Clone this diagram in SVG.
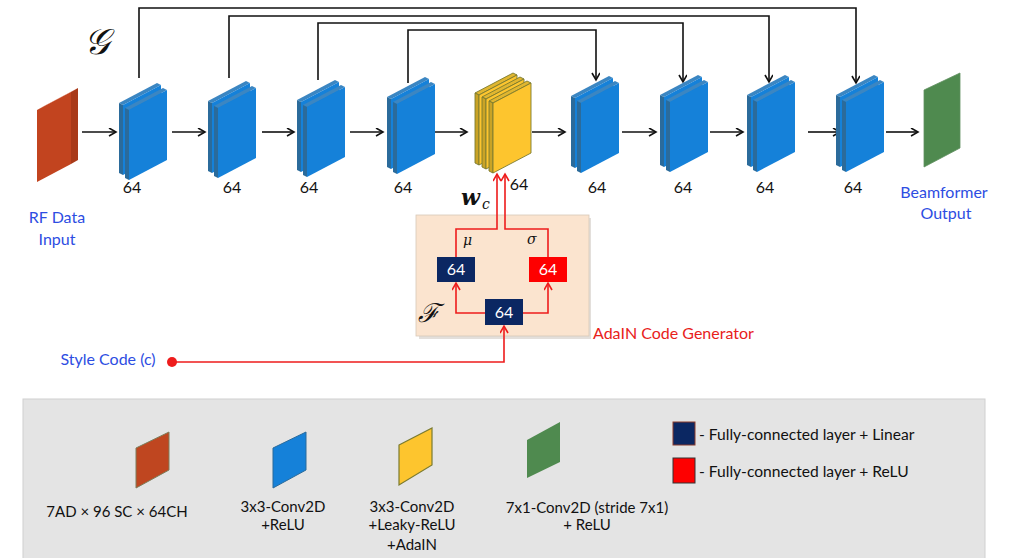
<svg xmlns="http://www.w3.org/2000/svg" xmlns:xlink="http://www.w3.org/1999/xlink" width="1010" height="558" viewBox="0 0 1010 558">
<style>
.lbl{font-family:Lato,"Liberation Sans",sans-serif;font-size:16px;fill:#111;text-anchor:middle}
.blue{font-family:Lato,"Liberation Sans",sans-serif;font-size:16px;fill:#2d4de2;text-anchor:middle}
.red{font-family:Lato,"Liberation Sans",sans-serif;font-size:16px;fill:#e8211b}
.leg{font-family:Lato,"Liberation Sans",sans-serif;font-size:15px;fill:#111;text-anchor:middle}
.fc{font-family:Lato,"Liberation Sans",sans-serif;font-size:16px;fill:#fff;text-anchor:middle}
.k{fill:none;stroke:#111;stroke-width:1.6}
.r{fill:none;stroke:#ee1c1c;stroke-width:1.6}
.math{font-family:"DejaVu Serif","Liberation Serif",serif;font-style:italic;fill:#111}
</style>
<defs>
<marker id="ak" markerWidth="10" markerHeight="10" refX="8" refY="4" orient="auto" markerUnits="userSpaceOnUse">
<path d="M1,0 L8,4 L1,8" fill="none" stroke="#111" stroke-width="1.6"/>
</marker>
<marker id="ar" markerWidth="10" markerHeight="10" refX="8" refY="4" orient="auto" markerUnits="userSpaceOnUse">
<path d="M1,0 L8,4 L1,8" fill="none" stroke="#ee1c1c" stroke-width="1.6"/>
</marker>
<g id="bp">
<polygon points="0,22 38,2 42,4 4,24" fill="#3b86c2"/>
<polygon points="0,22 4,24 4,94 0,92" fill="#2b6b9b"/>
<polygon points="4,24 42,4 42,74 4,94" fill="#1581d9"/>
</g>
<g id="bb"><use xlink:href="#bp"/><use xlink:href="#bp" x="6" y="5"/></g>
<g id="yp" stroke="#7b7b30" stroke-width="0.9" stroke-linejoin="round">
<polygon points="0,22 38,2 42,4 4,24" fill="#e0b630"/>
<polygon points="0,22 4,24 4,94 0,92" fill="#c9a326"/>
<polygon points="4,24 42,4 42,74 4,94" fill="#fdc52e"/>
</g>
</defs>
<rect width="1010" height="558" fill="#fff"/>

<!-- legend background -->
<rect id="legend-bg" x="23" y="399" width="962" height="165" fill="#e4e4e4" stroke="#d0d0d0" stroke-width="1"/>

<!-- AdaIN generator panel -->
<g id="adain">
<rect x="419" y="218" width="172" height="121" fill="#c8c0b8" opacity="0.5"/>
<rect x="416" y="215" width="173" height="121" fill="#fbe4cf" stroke="#d8c8b8" stroke-width="0.8"/>
<text x="418" y="322" class="math" font-size="26">ℱ</text>
<text x="463" y="245" class="math" font-size="14">μ</text>
<text x="527" y="244" class="math" font-size="14">σ</text>
<text class="red" x="593" y="339">AdaIN Code Generator</text>
</g>

<!-- connectors -->
<g id="connectors">
<polyline class="k" points="139,78 139,8 856,8 856,83" marker-end="url(#ak)"/>
<polyline class="k" points="229,78 229,16 769,16 769,82" marker-end="url(#ak)"/>
<polyline class="k" points="318,80 318,23 683,23 683,82" marker-end="url(#ak)"/>
<polyline class="k" points="408,83 408,30 596,30 596,80" marker-end="url(#ak)"/>
<line class="k" x1="82" y1="132" x2="116" y2="132" marker-end="url(#ak)"/>
<line class="k" x1="172" y1="132" x2="205" y2="132" marker-end="url(#ak)"/>
<line class="k" x1="262" y1="132" x2="294" y2="132" marker-end="url(#ak)"/>
<line class="k" x1="350" y1="132" x2="383" y2="132" marker-end="url(#ak)"/>
<line class="k" x1="434" y1="132" x2="467" y2="132" marker-end="url(#ak)"/>
<line class="k" x1="532" y1="132" x2="565" y2="132" marker-end="url(#ak)"/>
<line class="k" x1="622" y1="132" x2="656" y2="132" marker-end="url(#ak)"/>
<line class="k" x1="710" y1="132" x2="743" y2="132" marker-end="url(#ak)"/>
<line class="k" x1="808" y1="132" x2="840" y2="132" marker-end="url(#ak)"/>
<line class="k" x1="886" y1="132" x2="918" y2="132" marker-end="url(#ak)"/>
<polyline class="r" points="485,313 456,313 456,283" marker-end="url(#ar)"/>
<polyline class="r" points="523,313 548,313 548,283" marker-end="url(#ar)"/>
<polyline class="r" points="456,257 456,229 497,229 497,174" marker-end="url(#ar)"/>
<polyline class="r" points="548,257 548,229 505,229 505,174" marker-end="url(#ar)"/>
<polyline class="r" points="172,362 504,362 504,326" marker-end="url(#ar)"/>
<circle cx="172" cy="362" r="5" fill="#ee1c1c"/>
</g>

<!-- title G -->
<text x="84" y="54" class="math" font-size="36">𝒢</text>

<!-- input block -->
<g id="rf-input">
<polygon points="37,110 71,92 78,88 44,106" fill="#e26a49"/>
<polygon points="71,92 78,88 78,160 71,164" fill="#a93a19"/>
<polygon points="37,110 71,92 71,164 37,182" fill="#c2441f"/>
<text class="blue" x="57" y="223">RF Data</text>
<text class="blue" x="57" y="245">Input</text>
</g>

<g id="b1"><use xlink:href="#bb" x="119" y="81"/><text class="lbl" x="132" y="193">64</text></g>
<g id="b2"><use xlink:href="#bb" x="208" y="79"/><text class="lbl" x="232" y="193">64</text></g>
<g id="b3"><use xlink:href="#bb" x="297" y="78"/><text class="lbl" x="309" y="193">64</text></g>
<g id="b4"><use xlink:href="#bb" x="387" y="75"/><text class="lbl" x="403" y="193">64</text></g>
<g id="yellow"><use xlink:href="#yp" x="475" y="71"/><use xlink:href="#yp" x="482" y="75"/><use xlink:href="#yp" x="489" y="79"/><text class="lbl" x="519" y="190">64</text></g>
<g id="b5"><use xlink:href="#bb" x="571" y="74"/><text class="lbl" x="597" y="193">64</text></g>
<g id="b6"><use xlink:href="#bb" x="660" y="73"/><text class="lbl" x="683" y="193">64</text></g>
<g id="b7"><use xlink:href="#bb" x="747" y="73"/><text class="lbl" x="765" y="193">64</text></g>
<g id="b8"><use xlink:href="#bb" x="836" y="73"/><text class="lbl" x="853" y="193">64</text></g>

<g id="output">
<polygon points="924,90 960,73 960,148 924,167" fill="#4f8a4f" stroke="#5f8f5f" stroke-width="0.8"/>
<text class="blue" x="944" y="198" font-size="17.5">Beamformer</text>
<text class="blue" x="946" y="219" font-size="17.5">Output</text>
</g>

<!-- w_c -->
<g id="wc">
<text x="461" y="205" font-family="'DejaVu Serif','Liberation Serif',serif" font-style="italic" font-weight="bold" font-size="22" fill="#111">w</text>
<text x="482" y="209" class="math" font-size="14">c</text>
</g>

<g id="fc-mu"><rect x="437" y="257" width="38" height="25" fill="#0b2762"/><text class="fc" x="456" y="275">64</text></g>
<g id="fc-sigma"><rect x="529" y="257" width="38" height="25" fill="#fe0000"/><text class="fc" x="548" y="275">64</text></g>
<g id="fc-base"><rect x="485" y="299" width="38" height="26" fill="#0b2762"/><text class="fc" x="504" y="318">64</text></g>

<g id="style-code"><text class="blue" x="108" y="365" font-size="16.5">Style Code (c)</text></g>

<!-- legend -->
<g id="leg-red">
<polygon points="136,448 169,432 169,470 136,488" fill="#bf4620" stroke="#7d7d5a" stroke-width="1"/>
<text class="leg" x="117" y="517">7AD × 96 SC × 64CH</text>
</g>
<g id="leg-blue">
<polygon points="273,448 306,432 306,470 273,488" fill="#1581d9" stroke="#2b6b9b" stroke-width="1"/>
<text class="leg" x="283" y="512">3x3-Conv2D</text>
<text class="leg" x="283" y="530">+ReLU</text>
</g>
<g id="leg-yellow">
<polygon points="399,445 432,428 432,465 399,485" fill="#fdc52e" stroke="#7b7b30" stroke-width="1.2"/>
<text class="leg" x="412" y="512">3x3-Conv2D</text>
<text class="leg" x="412" y="530">+Leaky-ReLU</text>
<text class="leg" x="412" y="550">+AdaIN</text>
</g>
<g id="leg-green">
<polygon points="527,440 560,422 560,462 527,478" fill="#4f8a4f"/>
<text class="leg" x="587" y="513">7x1-Conv2D (stride 7x1)</text>
<text class="leg" x="587" y="530">+ ReLU</text>
</g>
<g id="leg-fc-linear">
<rect x="673" y="422" width="22" height="23" fill="#0b2762" stroke="#8a3a2a" stroke-width="1"/>
<text x="699" y="440" font-family="Lato,'Liberation Sans',sans-serif" font-size="15.6" fill="#111">- Fully-connected layer + Linear</text>
</g>
<g id="leg-fc-relu">
<rect x="673" y="458" width="22" height="25" fill="#fe0000" stroke="#333" stroke-width="1"/>
<text x="699" y="477" font-family="Lato,'Liberation Sans',sans-serif" font-size="15.6" fill="#111">- Fully-connected layer + ReLU</text>
</g>
</svg>
